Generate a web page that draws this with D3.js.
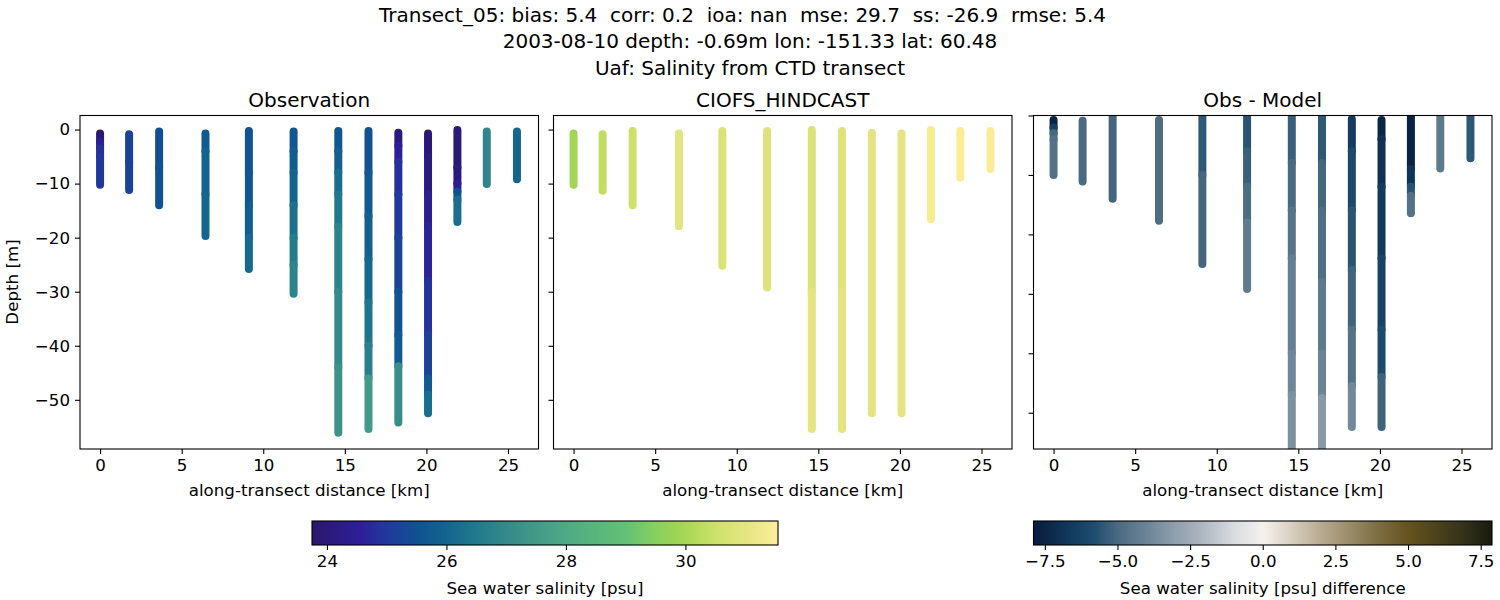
<!DOCTYPE html>
<html>
<head>
<meta charset="utf-8">
<script src="https://cdn.jsdelivr.net/npm/d3@7"></script>
<style>
  html, body { margin: 0; padding: 0; background: #fff; }
  text { font-family: "DejaVu Sans", sans-serif; fill: #000; }
</style>
</head>
<body>
<svg id="chart" width="1500" height="600"></svg>
<script>
// along-transect position of each CTD cast
const stationKm = [0, 1.78, 3.62, 6.46, 9.12, 11.86, 14.6, 16.45, 18.28, 20.1, 21.9, 23.7, 25.55]

// each cast: depths where a reading starts (last one = bottom of cast), and one reading per span
const obsDepths = [
  [-0.74, -2.3, -3.5, -5, -10.2],
  [-0.87, -6, -11.2],
  [-0.37, -7, -14],
  [-0.74, -4, -12, -19.7],
  [-0.25, -8, -14, -20, -25.8],
  [-0.37, -4, -8, -14, -20, -25, -30.4],
  [-0.25, -4, -8, -12, -18, -30, -44, -56.1],
  [-0.25, -8, -16, -24, -32, -40, -46, -55.4],
  [-0.6, -3, -6, -12, -20, -30, -38, -43.8, -54.2],
  [-0.74, -5, -12, -18, -28, -38, -46, -49, -52.5],
  [-0.1, -7, -10, -11.5, -13, -17.1],
  [-0.37, -10.05],
  [-0.37, -9.2]
]
const obsValues = [
  [23.95, 24.5, 24.85, 24.95],
  [25.2, 25.2],
  [25.45, 25.5],
  [25.7, 25.95, 26.05],
  [25.5, 25.6, 25.8, 26.1],
  [25.6, 25.8, 26.0, 26.3, 26.6, 26.8],
  [25.6, 25.9, 26.2, 26.5, 26.8, 27.0, 27.3],
  [25.5, 25.7, 25.9, 26.1, 26.4, 26.7, 27.5],
  [24.05, 24.55, 24.85, 25.0, 25.2, 25.5, 25.75, 27.1],
  [23.95, 24.1, 24.35, 24.65, 24.9, 25.2, 25.7, 26.2],
  [23.95, 24.1, 24.5, 25.5, 26.2],
  [26.85],
  [26.05]
]

const modelDepths = [
  [-0.74, -10.2],
  [-0.87, -11.3],
  [-0.25, -14],
  [-0.74, -17.9],
  [-0.25, -25.2],
  [-0.25, -29.2],
  [-0.1, -30, -55.4],
  [-0.25, -30, -55.4],
  [-0.6, -52.5],
  [-0.74, -52.5],
  [-0.1, -16.6],
  [-0.25, -8.9],
  [-0.25, -7.3]
]
const modelValues = [
  [29.9],
  [30.35],
  [30.55],
  [30.95],
  [30.8],
  [30.85],
  [30.8, 30.95],
  [30.85, 30.95],
  [31.0],
  [31.0],
  [31.4],
  [31.5],
  [31.5]
]

const diffDepths = [
  [-0.74, -2, -3, -4, -10],
  [-0.87, -11.1],
  [-0.25, -14],
  [-0.74, -17.7],
  [-0.25, -10, -25],
  [-0.25, -6, -12, -18, -29.2],
  [-0.1, -8, -16, -24, -40, -47, -56.5],
  [-0.25, -8, -16, -28, -40, -47.5, -56.5],
  [-0.6, -6, -16, -26, -36, -45.5, -52.4],
  [-0.74, -4, -12, -24, -36, -44, -52.4],
  [-0.1, -9, -12, -13.5, -16.45],
  [-0.25, -8.9],
  [-0.25, -7.2]
]
const diffValues = [
  [-7.6, -6.3, -5, -4.7],
  [-5],
  [-5.1],
  [-4.9],
  [-5.5, -5.1],
  [-5.6, -5.3, -4.9, -4.3],
  [-5.3, -5, -4.6, -4.2, -3.9, -3.5],
  [-5.5, -5.1, -4.8, -4.4, -4, -3.2],
  [-6.5, -6, -5.6, -5.2, -4.7, -3.8],
  [-7.4, -7, -6.6, -6.2, -5.9, -5.2],
  [-7.6, -6.8, -5.6, -4.7],
  [-4.4],
  [-5.5]
]

const salinityTicks = [24, 26, 28, 30]
const diffTicks = [-7.5, -5, -2.5, 0, 2.5, 5, 7.5]
const distanceTicks = [0, 5, 10, 15, 20, 25]
const depthTicks = [0, -10, -20, -30, -40, -50]

// colormaps
const salinityStops = [23.75, 24.55, 25.05, 25.55, 26, 26.5, 27, 27.5, 28, 28.5, 29, 29.5, 30, 30.5, 31, 31.55]
const salinityColors = ["#2a186c", "#2e1e98", "#1f3c9c", "#0f5490", "#14648f", "#217a8c", "#35898b", "#429a88", "#4eaa84", "#58b67c", "#63c074", "#86d05e", "#a9d654", "#cde16a", "#e4e582", "#fdee99"]
const diffStops = [-7.89, -6.6, -5.8, -5, -4, -3, -2, -1, 0, 1, 2, 3, 4, 5, 6, 7, 7.89]
const diffColors = ["#071c3b", "#123a5e", "#1e4d6f", "#4a6a80", "#6b8496", "#8f9fac", "#b1b9c3", "#d9dcdf", "#f5f1ee", "#d8cfc0", "#b8aa90", "#9a8c69", "#7c6c42", "#66531f", "#4b421c", "#30301a", "#191b0a"]

const salinityColor = d3.scaleLinear().domain(salinityStops).range(salinityColors)
const diffColor = d3.scaleLinear().domain(diffStops).range(diffColors)

const svg = d3.select("#chart")
const frameTop = 115.5, frameBottom = 449
const sharedY = d3.scaleLinear().domain([2.6, -59.1]).range([frameTop, frameBottom])
const diffY = d3.scaleLinear().domain([0, -56.1]).range([frameTop, frameBottom])

// suptitle, first line has trailing blanks in the original so it sits left of centre
const titleLines = [
  ["Transect_05: bias: 5.4  corr: 0.2  ioa: nan  mse: 29.7  ss: -26.9  rmse: 5.4", 742.5, 22],
  ["2003-08-10 depth: -0.69m lon: -151.33 lat: 60.48", 750, 48],
  ["Uaf: Salinity from CTD transect", 750, 75]
]
svg.selectAll("text.sup").data(titleLines).enter().append("text")
  .attr("class", "sup")
  .attr("xml:space", "preserve")
  .style("white-space", "pre")
  .attr("x", d => d[1])
  .attr("y", d => d[2])
  .attr("text-anchor", "middle")
  .style("font-size", "20px")
  .text(d => d[0])

const fmtMinus = d => String(d).replace("-", "\u2212")

function drawPanel(o) {
  const x = d3.scaleLinear().domain([-1.23, 26.87]).range([o.left, o.right])
  const y = o.y
  const g = svg.append("g")

  const clipId = "clip" + Math.round(o.left)
  svg.append("clipPath").attr("id", clipId).append("rect")
    .attr("x", o.left).attr("y", frameTop).attr("width", o.right - o.left).attr("height", frameBottom - frameTop)

  const marks = g.append("g").attr("clip-path", "url(#" + clipId + ")")
  stationKm.forEach((km, i) => {
    const depths = o.depths[i]
    const spans = o.values[i].map((v, j) => ({ v: v, from: depths[j], to: depths[j + 1] }))
    marks.selectAll(null).data(spans).enter().append("line")
      .attr("x1", x(km))
      .attr("x2", x(km))
      .attr("y1", d => y(d.from))
      .attr("y2", d => y(d.to))
      .attr("stroke", d => o.color(d.v))
      .attr("stroke-width", 8)
      .attr("stroke-linecap", "round")
  })

  g.append("rect")
    .attr("x", o.left).attr("y", frameTop)
    .attr("width", o.right - o.left).attr("height", frameBottom - frameTop)
    .attr("fill", "none").attr("stroke", "#000").attr("stroke-width", 1.1)

  const xAxis = g.append("g").attr("transform", "translate(0," + frameBottom + ")")
    .call(d3.axisBottom(x).tickValues(distanceTicks).tickSize(5).tickPadding(5))
  xAxis.select(".domain").remove()
  xAxis.selectAll("line").attr("stroke-width", 1.1)
  xAxis.selectAll("text").style("font-size", "16.67px")

  const yAxis = g.append("g").attr("transform", "translate(" + o.left + ",0)")
    .call(d3.axisLeft(y).tickValues(depthTicks).tickSize(5).tickPadding(5).tickFormat(o.labelY ? fmtMinus : ""))
  yAxis.select(".domain").remove()
  yAxis.selectAll("line").attr("stroke-width", 1.1)
  yAxis.selectAll("text").style("font-size", "16.67px")

  g.append("text")
    .attr("x", (o.left + o.right) / 2).attr("y", 107)
    .attr("text-anchor", "middle").style("font-size", "20px")
    .text(o.title)
  g.append("text")
    .attr("x", (o.left + o.right) / 2).attr("y", 496)
    .attr("text-anchor", "middle").style("font-size", "16.67px")
    .text("along-transect distance [km]")
}

drawPanel({ left: 80, right: 538.5, y: sharedY, depths: obsDepths, values: obsValues, color: salinityColor, title: "Observation", labelY: true })
drawPanel({ left: 553.5, right: 1012, y: sharedY, depths: modelDepths, values: modelValues, color: salinityColor, title: "CIOFS_HINDCAST", labelY: false })
drawPanel({ left: 1033.5, right: 1492, y: diffY, depths: diffDepths, values: diffValues, color: diffColor, title: "Obs - Model", labelY: false })

svg.append("text")
  .attr("transform", "translate(18,282) rotate(-90)")
  .attr("text-anchor", "middle").style("font-size", "16.67px")
  .text("Depth [m]")

function drawColorbar(o) {
  const id = "grad" + Math.round(o.left)
  const grad = svg.append("defs").append("linearGradient").attr("id", id)
  const lo = o.stops[0], hi = o.stops[o.stops.length - 1]
  grad.selectAll("stop").data(o.stops).enter().append("stop")
    .attr("offset", d => (d - lo) / (hi - lo))
    .attr("stop-color", d => o.color(d))

  const cy = 521, ch = 24
  const x = d3.scaleLinear().domain([lo, hi]).range([o.left, o.right])
  svg.append("rect")
    .attr("x", o.left).attr("y", cy).attr("width", o.right - o.left).attr("height", ch)
    .attr("fill", "url(#" + id + ")").attr("stroke", "#000").attr("stroke-width", 1.1)
  const axis = svg.append("g").attr("transform", "translate(0," + (cy + ch) + ")")
    .call(d3.axisBottom(x).tickValues(o.ticks).tickSize(5).tickPadding(5).tickFormat(o.format))
  axis.select(".domain").remove()
  axis.selectAll("line").attr("stroke-width", 1.1)
  axis.selectAll("text").style("font-size", "16.67px")
  svg.append("text")
    .attr("x", (o.left + o.right) / 2).attr("y", 594)
    .attr("text-anchor", "middle").style("font-size", "16.67px")
    .text(o.label)
}

drawColorbar({ left: 312, right: 778, stops: salinityStops, color: salinityColor, ticks: salinityTicks, format: d3.format("d"), label: "Sea water salinity [psu]" })
drawColorbar({ left: 1033.5, right: 1492, stops: diffStops, color: diffColor, ticks: diffTicks, format: d => fmtMinus(d3.format(".1f")(d)), label: "Sea water salinity [psu] difference" })
</script>
</body>
</html>
